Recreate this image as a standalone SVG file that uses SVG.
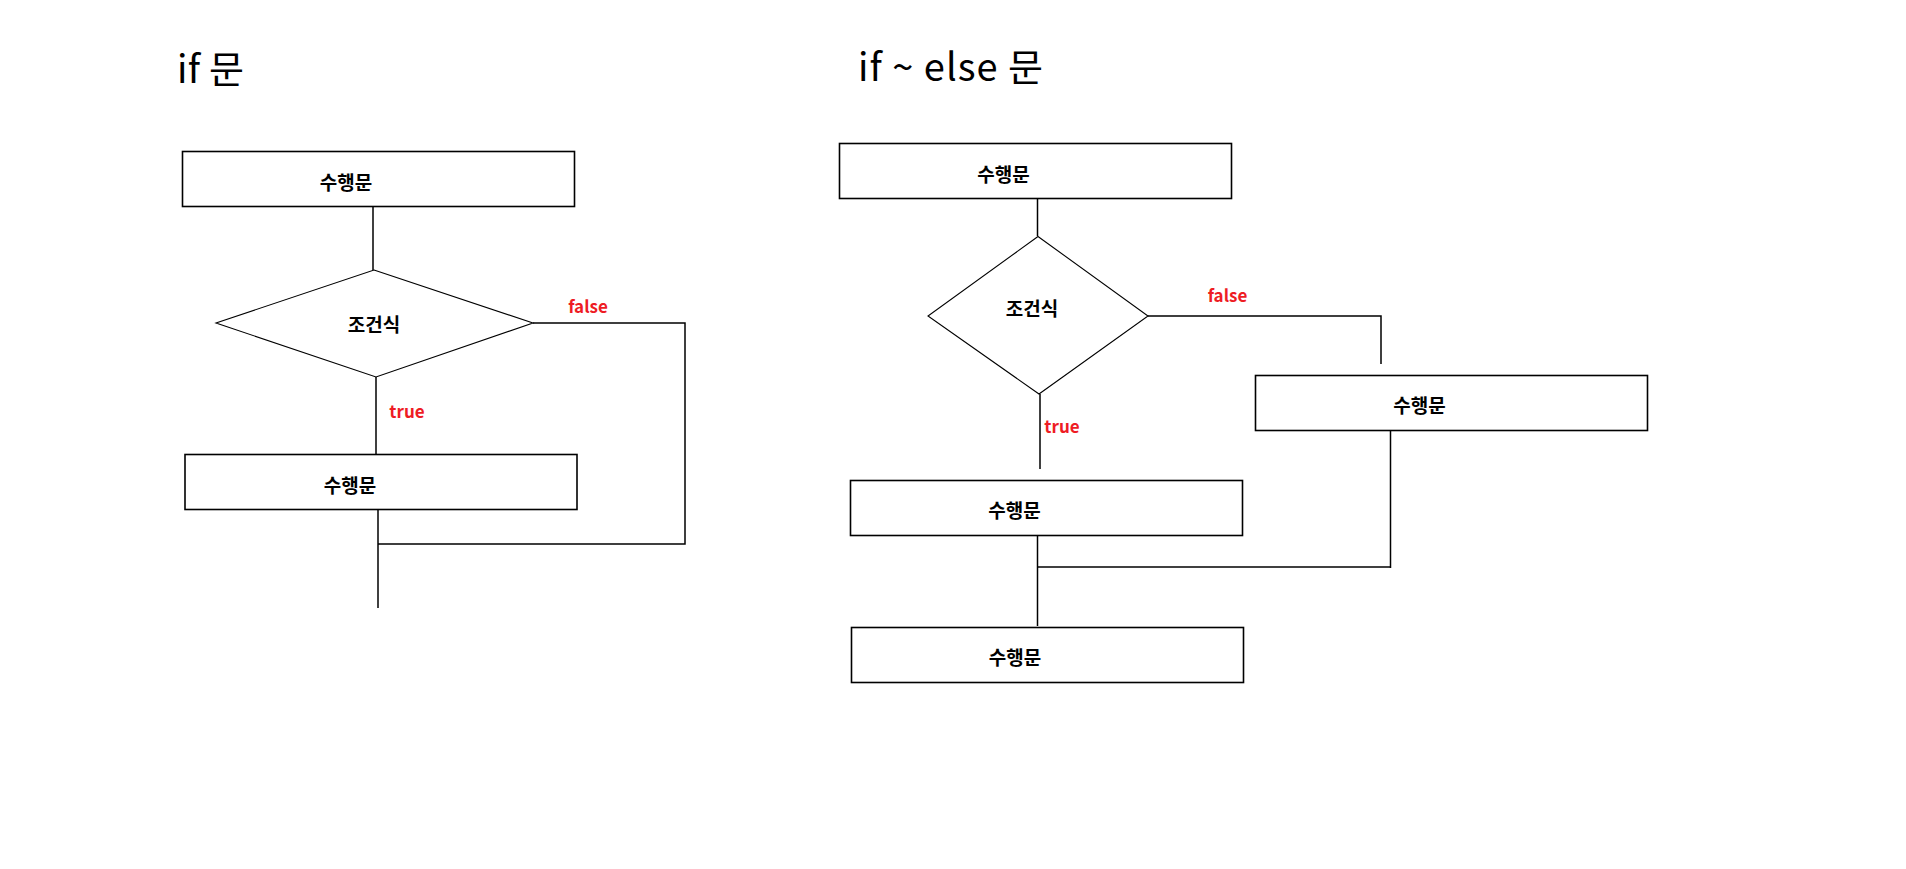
<svg xmlns="http://www.w3.org/2000/svg" width="1906" height="869" viewBox="0 0 1906 869">
<style>
.bg{fill:#ffffff}
.box{fill:#ffffff;stroke:#000000;stroke-width:1.6}
.dia{fill:#ffffff;stroke:#000000;stroke-width:1.1}
.con{fill:none;stroke:#000000;stroke-width:1.5}
.title{font-family:"Noto Sans CJK KR","Noto Sans",sans-serif;font-size:38px;font-weight:400;fill:#000000}
.lbl{font-family:"Noto Sans CJK KR","Noto Sans",sans-serif;font-size:19px;font-weight:700;fill:#000000;text-anchor:middle}
.cond{font-family:"Noto Sans CJK KR","Noto Sans",sans-serif;font-size:17px;font-weight:700;fill:#ee1c24;text-anchor:middle}
</style>
<rect class="bg" x="0" y="0" width="1906" height="869"/>
<text class="title" x="177" y="83" textLength="67" lengthAdjust="spacing">if 문</text>
<text class="title" x="858" y="81" textLength="185" lengthAdjust="spacing">if ~ else 문</text>

<g id="connectors">
  <line class="con" x1="373" y1="206" x2="373" y2="270"/>
  <line class="con" x1="376" y1="377" x2="376" y2="455"/>
  <polyline class="con" points="533,323 685,323 685,544 378,544"/>
  <line class="con" x1="378" y1="509" x2="378" y2="608"/>
  <text class="cond" x="588" y="313">false</text>
  <text class="cond" x="407" y="418">true</text>

  <line class="con" x1="1037.5" y1="198" x2="1037.5" y2="236"/>
  <polyline class="con" points="1148,316 1381,316 1381,364"/>
  <line class="con" x1="1040" y1="394" x2="1040" y2="469"/>
  <line class="con" x1="1390.5" y1="430" x2="1390.5" y2="568"/>
  <line class="con" x1="1390.5" y1="567" x2="1037.5" y2="567"/>
  <line class="con" x1="1037.5" y1="535" x2="1037.5" y2="626"/>
  <text class="cond" x="1227.5" y="302">false</text>
  <text class="cond" x="1062" y="433">true</text>
</g>

<g id="l_stmt1">
  <rect class="box" x="182.5" y="151.5" width="392" height="55"/>
  <text class="lbl" x="346" y="190">수행문</text>
</g>
<g id="l_cond">
  <polygon class="dia" points="374,270 533,323 376,377 216,323"/>
  <text class="lbl" x="374" y="332">조건식</text>
</g>
<g id="l_stmt2">
  <rect class="box" x="185" y="454.5" width="392" height="55"/>
  <text class="lbl" x="350" y="493">수행문</text>
</g>

<g id="r_stmt1">
  <rect class="box" x="839.5" y="143.5" width="392" height="55"/>
  <text class="lbl" x="1003.5" y="182">수행문</text>
</g>
<g id="r_cond">
  <polygon class="dia" points="1038,236.5 1148,316 1039,394 928,316"/>
  <text class="lbl" x="1032" y="316">조건식</text>
</g>
<g id="r_else">
  <rect class="box" x="1255.5" y="375.5" width="392" height="55"/>
  <text class="lbl" x="1419.5" y="413">수행문</text>
</g>
<g id="r_true">
  <rect class="box" x="850.5" y="480.5" width="392" height="55"/>
  <text class="lbl" x="1014.5" y="518">수행문</text>
</g>
<g id="r_next">
  <rect class="box" x="851.5" y="627.5" width="392" height="55"/>
  <text class="lbl" x="1015" y="665">수행문</text>
</g>
</svg>
